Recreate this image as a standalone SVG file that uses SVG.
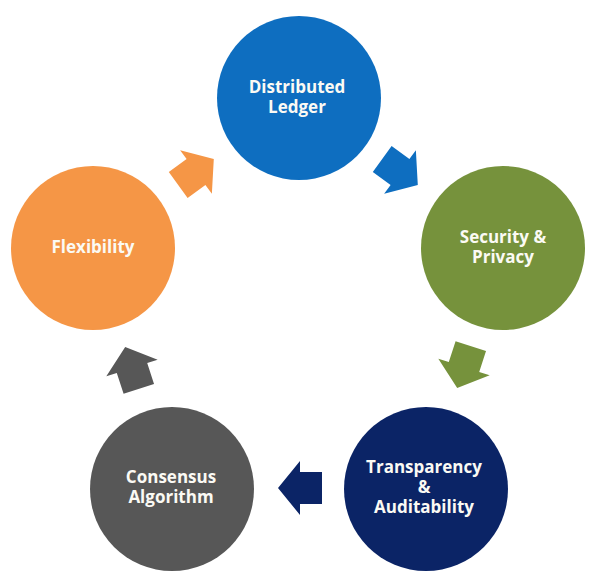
<svg xmlns="http://www.w3.org/2000/svg" width="600" height="585" viewBox="0 0 600 585">
  <defs>
    <style>
      .lbl { font-family: "Open Sans", "Noto Sans", "Liberation Sans", sans-serif; font-weight: 700; font-size: 17px; fill: #FBFAF4; text-anchor: middle; }
    </style>
    <path id="arrow" d="M -22,-16 L 0,-16 L 0,-27 L 22,0 L 0,27 L 0,16 L -22,16 Z"/>
  </defs>
  <rect width="600" height="585" fill="#FFFFFF"/>

  <g id="connectors">
    <use href="#arrow" fill="#0E6EC0" transform="translate(400,172) rotate(36)"/>
    <use href="#arrow" fill="#76923C" transform="translate(464,367) rotate(108)"/>
    <use href="#arrow" fill="#0B2466" transform="translate(300,488) rotate(180)"/>
    <use href="#arrow" fill="#575757" transform="translate(132,368) rotate(-108)"/>
    <use href="#arrow" fill="#F59646" transform="translate(196,172) rotate(-36)"/>
  </g>

  <g id="distributed-ledger">
    <circle cx="299" cy="98" r="82" fill="#0E6EC0"/>
    <text class="lbl" x="297" y="93">Distributed</text>
    <text class="lbl" x="297" y="113">Ledger</text>
  </g>

  <g id="security-privacy">
    <circle cx="503" cy="248" r="82" fill="#76923C"/>
    <text class="lbl" x="503" y="243">Security &amp;</text>
    <text class="lbl" x="503" y="263">Privacy</text>
  </g>

  <g id="transparency-auditability">
    <circle cx="426" cy="489" r="82" fill="#0B2466"/>
    <text class="lbl" x="424" y="473">Transparency</text>
    <text class="lbl" x="424" y="493">&amp;</text>
    <text class="lbl" x="424" y="513">Auditability</text>
  </g>

  <g id="consensus-algorithm">
    <circle cx="172" cy="489" r="82" fill="#575757"/>
    <text class="lbl" x="171" y="483">Consensus</text>
    <text class="lbl" x="171" y="503">Algorithm</text>
  </g>

  <g id="flexibility">
    <circle cx="93" cy="248" r="82" fill="#F59646"/>
    <text class="lbl" x="93" y="253">Flexibility</text>
  </g>
</svg>
